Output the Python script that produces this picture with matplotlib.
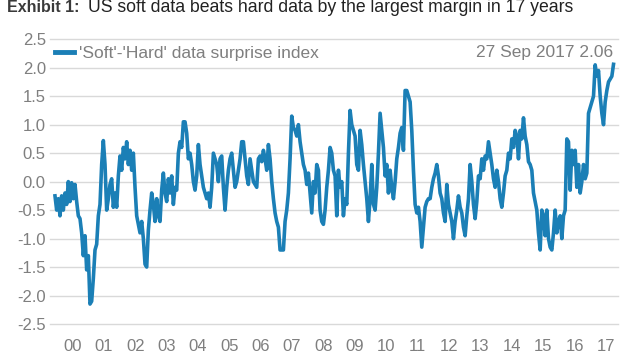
import pandas as pd
import matplotlib.pyplot as plt
import matplotlib.dates as mdates
from matplotlib.lines import Line2D

plt.rcParams['font.family'] = ['Liberation Sans', 'DejaVu Sans']

# Valors llegits del gràfic (índex 'Soft'-'Hard'), un punt cada ~3 setmanes
valors_2000_2002 = [-0.25, -0.5, -0.3, -0.6, -0.25, -0.5, -0.2, -0.4, 0.0, -0.35,
                    -0.02, -0.3, -0.05, -0.35, -0.6, -0.65, -0.9, -1.3, -0.95, -1.55,
                    -1.3, -2.15, -2.1, -1.7, -1.2, -1.1, -0.6, -0.4, 0.3, 0.72,
                    0.3, -0.5, -0.3, -0.05, 0.05, -0.45, -0.2, -0.45, 0.1, 0.45,
                    0.2, 0.6, 0.4, 0.7, 0.3, 0.55, 0.2, 0.5, -0.1, -0.6,
                    -0.75, -0.9, -0.7, -1.0, -1.45, -1.5]
valors_2003_2005 = [-0.85, -0.5, -0.2, -0.4, -0.7, -0.3, -0.6, -0.7, -0.15, 0.15,
                    -0.2, -0.35, 0.05, -0.2, 0.1, -0.4, -0.1, -0.15, 0.5, 0.7,
                    0.6, 1.05, 1.05, 0.85, 0.4, 0.5, 0.3, 0.0, -0.15, 0.1,
                    0.65, 0.3, 0.1, -0.1, -0.2, -0.3, -0.2, -0.45, -0.1, 0.5,
                    0.4, 0.3, 0.0, 0.4, 0.45, -0.1, -0.5, -0.1, 0.2, 0.4,
                    0.5, 0.2, -0.1, 0.0, 0.2, 0.4]
valors_2006_2008 = [0.7, 0.7, 0.4, 0.1, -0.05, 0.4, 0.2, 0.0, -0.05, -0.1,
                    0.4, 0.45, 0.35, 0.55, 0.4, 0.2, 0.65, 0.4, 0.0, -0.3,
                    -0.55, -0.7, -0.8, -1.2, -1.2, -1.2, -0.7, -0.5, -0.2, 0.4,
                    1.15, 0.95, 0.9, 0.8, 1.0, 0.7, 0.5, 0.3, 0.2, -0.05,
                    0.15, -0.2, -0.55, 0.0, -0.2, 0.3, 0.2, -0.5, -0.7, -0.75,
                    -0.5, -0.1, 0.2, 0.6, 0.5, 0.2, 0.1]
valors_2009_2011 = [-0.6, 0.2, -0.1, 0.0, -0.6, -0.3, -0.4, 0.5, 1.25, 1.0,
                    0.9, 0.8, 0.3, 0.2, 0.9, 0.65, 0.3, 0.0, -0.3, -0.7,
                    -0.3, 0.3, -0.4, -0.5, -0.1, 0.5, 1.2, 0.9, 0.6, 0.1,
                    0.3, -0.2, 0.2, -0.1, -0.3, 0.0, 0.4, 0.6, 0.85, 0.95,
                    0.55, 1.6, 1.6, 1.5, 1.4, 0.9, 0.2, -0.4, -0.55, -0.45,
                    -0.7, -1.15, -0.8, -0.45, -0.35, -0.3, -0.3]
valors_2012_2014 = [-0.1, 0.05, 0.15, 0.3, 0.1, -0.2, -0.3, -0.55, -0.7, -0.05,
                    -0.4, -0.55, -0.7, -1.0, -0.7, -0.5, -0.25, -0.45, -0.55, -0.8,
                    -0.95, -0.6, -0.3, 0.3, 0.0, -0.4, -0.65, -0.35, 0.1, 0.05,
                    0.4, 0.2, 0.45, 0.4, 0.7, 0.5, 0.3, 0.05, -0.1, 0.2,
                    0.0, -0.3, -0.45, -0.2, 0.1, 0.2, 0.5, 0.4, 0.75, 0.6,
                    0.9, 0.8, 0.4, 0.9, 0.75, 1.12, 0.8, 0.65, 0.35, 0.3]
valors_2015_2017 = [0.2, -0.2, -0.35, -0.5, -0.9, -1.2, -0.5, -0.6, -0.95, -0.5,
                    -1.0, -1.15, -1.2, -0.9, -0.5, -0.9, -0.7, -0.6, -1.0, -0.6,
                    -0.5, 0.75, 0.7, -0.15, 0.55, 0.3, 0.55, -0.1, 0.3, -0.2,
                    0.0, 0.3, 0.05, 0.15, 1.2, 1.3, 1.4, 1.5, 2.05, 1.85,
                    1.95, 1.5, 1.2, 1.0, 1.4, 1.6, 1.75, 1.8, 1.85, 2.06]

valors = (valors_2000_2002 + valors_2003_2005 + valors_2006_2008
          + valors_2009_2011 + valors_2012_2014 + valors_2015_2017)
dates = pd.date_range('1999-12-10', '2017-09-27', periods=len(valors))

anys = list(range(2000, 2018))
etiquetes_x = ['%02d' % (a % 100) for a in anys]
ticks_y = [-2.5, -2.0, -1.5, -1.0, -0.5, 0.0, 0.5, 1.0, 1.5, 2.0, 2.5]

color_linia = '#1B7FB6'
gris = '#7f7f7f'

fig = plt.figure(figsize=(6.4, 3.6), dpi=100)
ax = fig.add_axes([0.078, 0.1, 0.888, 0.791])

ax.plot(dates, valors, color=color_linia, lw=2.6, solid_joinstyle='round')

# Eixos
ax.set_ylim(-2.5, 2.5)
ax.set_xlim(pd.Timestamp('1999-10-12'), pd.Timestamp('2017-11-21'))
ax.set_yticks(ticks_y)
ax.set_yticklabels(['%.1f' % t for t in ticks_y])
ax.set_xticks([mdates.date2num(pd.Timestamp('%d-07-01' % a)) for a in anys])
ax.set_xticklabels(etiquetes_x)
ax.tick_params(axis='both', length=0, labelsize=12, labelcolor=gris)
ax.tick_params(axis='y', pad=3)
ax.tick_params(axis='x', pad=11)
for s in ax.spines.values():
    s.set_visible(False)
ax.grid(axis='y', color='#d9d9d9', lw=1)
ax.set_axisbelow(True)
for gl in ax.get_ygridlines():
    gl.set_clip_on(False)

# Llegenda i valor final
handle = Line2D([], [], color=color_linia, lw=3.5)
ax.legend([handle], ["'Soft'-'Hard' data surprise index"], loc='center left',
          bbox_to_anchor=(55 / 640, 1 - 53 / 360), bbox_transform=fig.transFigure,
          frameon=False, fontsize=12.5, handlelength=1.1, handletextpad=0.3,
          borderpad=0, borderaxespad=0, labelcolor=gris)
fig.text(613 / 640, 1 - 53 / 360, '27 Sep 2017 2.06', ha='right', va='center',
         fontsize=12.5, color=gris)

# Títol
fig.text(7 / 640, 1 - 12 / 360, 'Exhibit 1:', ha='left', va='baseline',
         fontsize=11.5, fontweight='bold', color='#3a3a3a')
fig.text(88 / 640, 1 - 12 / 360,
         'US soft data beats hard data by the largest margin in 17 years',
         ha='left', va='baseline', fontsize=12.7, color='#222222')

fig.savefig('out.png', dpi=100)
